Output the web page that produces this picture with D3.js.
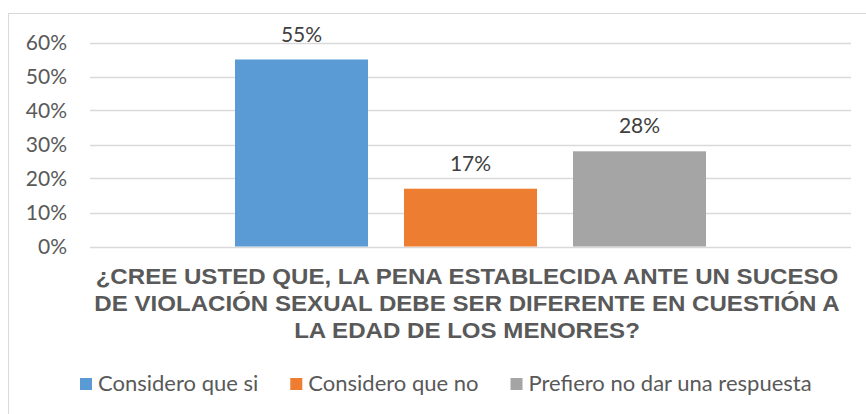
<!DOCTYPE html>
<html>
<head>
<meta charset="utf-8">
<script src="https://cdn.jsdelivr.net/npm/d3@7"></script>
<style>
  html, body { margin: 0; padding: 0; background: #fff; }
</style>
</head>
<body>
<div id="chart"></div>
<script>
const series = ['Considero que si', 'Considero que no', 'Prefiero no dar una respuesta'];
const values = [0.55, 0.17, 0.28];
const colors = ['#5B9BD5', '#ED7D31', '#A5A5A5'];
const yTicks = [0, 0.1, 0.2, 0.3, 0.4, 0.5, 0.6];
const titleLines = [
    '¿CREE USTED QUE, LA PENA ESTABLECIDA ANTE UN SUCESO',
    'DE VIOLACIÓN SEXUAL DEBE SER DIFERENTE EN CUESTIÓN A',
    'LA EDAD DE LOS MENORES?'
];

function createChart(selector) {
    const width = 866;
    const height = 414;
    const plot = { left: 90, right: 851, top: 42.5, bottom: 246.5 };
    const labelFont = 'Lato, "Open Sans", sans-serif';

    d3.select(selector).selectAll("*").remove();

    const svg = d3.select(selector).append('svg')
        .attr('width', width)
        .attr('height', height);

    // chart area border (runs off the right and bottom edge)
    svg.append('rect')
        .attr('x', 8.5)
        .attr('y', 13.5)
        .attr('width', 900)
        .attr('height', 450)
        .attr('fill', '#fff')
        .attr('stroke', '#d9d9d9')
        .attr('stroke-width', 1);

    const y = d3.scaleLinear()
        .domain([0, 0.6])
        .range([plot.bottom, plot.top]);

    const x = d3.scaleBand()
        .domain(series)
        .range([plot.left, plot.right])
        .paddingInner(0.213)
        .paddingOuter(0.858);

    // gridlines
    svg.append('g')
        .selectAll('line')
        .data(yTicks)
        .enter()
        .append('line')
        .attr('x1', plot.left)
        .attr('x2', plot.right)
        .attr('y1', d => Math.round(y(d)) + 0.5)
        .attr('y2', d => Math.round(y(d)) + 0.5)
        .attr('stroke', '#d9d9d9')
        .attr('stroke-width', 1.3);

    // y axis labels
    const yAxis = svg.append('g')
        .attr('transform', `translate(${plot.left},0)`)
        .call(d3.axisLeft(y).tickValues(yTicks).tickFormat(d3.format('.0%')).tickSize(0).tickPadding(23));
    yAxis.select('.domain').remove();
    yAxis.selectAll('text')
        .attr('dy', '0.35em')
        .style('font-family', labelFont)
        .style('font-size', '21px')
        .style('fill', '#595959');

    // bars
    svg.selectAll('.bar')
        .data(values)
        .enter()
        .append('rect')
        .attr('class', 'bar')
        .attr('x', (d, i) => x(series[i]))
        .attr('y', d => y(d))
        .attr('width', x.bandwidth())
        .attr('height', d => plot.bottom - y(d))
        .attr('fill', (d, i) => colors[i]);

    // data labels
    svg.selectAll('.lbl')
        .data(values)
        .enter()
        .append('text')
        .attr('class', 'lbl')
        .attr('x', (d, i) => x(series[i]) + x.bandwidth() / 2)
        .attr('y', d => y(d) - 18)
        .attr('text-anchor', 'middle')
        .style('font-family', labelFont)
        .style('font-size', '21px')
        .style('fill', '#404040')
        .text(d3.format('.0%'));

    // axis title, squeezed horizontally like the original condensed bold face
    const title = svg.append('g')
        .attr('transform', 'translate(467,0)');
    const lines = title.selectAll('text')
        .data(titleLines)
        .enter()
        .append('text')
        .attr('x', 0)
        .attr('y', (d, i) => 284 + i * 27)
        .attr('text-anchor', 'middle')
        .style('font-family', '"Liberation Sans", Arial, sans-serif')
        .style('font-weight', 'bold')
        .style('font-size', '22px')
        .style('fill', '#595959')
        .text(d => d);
    const firstW = lines.node().getComputedTextLength();
    title.attr('transform', `translate(467,0) scale(${743 / firstW},1)`);

    // legend
    const legend = svg.append('g');
    let lx = 80;
    series.forEach((s, i) => {
        legend.append('rect')
            .attr('x', lx)
            .attr('y', 378)
            .attr('width', 12)
            .attr('height', 12)
            .attr('fill', colors[i]);
        const t = legend.append('text')
            .attr('x', lx + 18)
            .attr('y', 391)
            .style('font-family', labelFont)
            .style('font-size', '22px')
            .style('fill', '#595959')
            .text(s);
        lx += 18 + t.node().getComputedTextLength() + 32;
    });
}

createChart('#chart');
</script>
</body>
</html>
